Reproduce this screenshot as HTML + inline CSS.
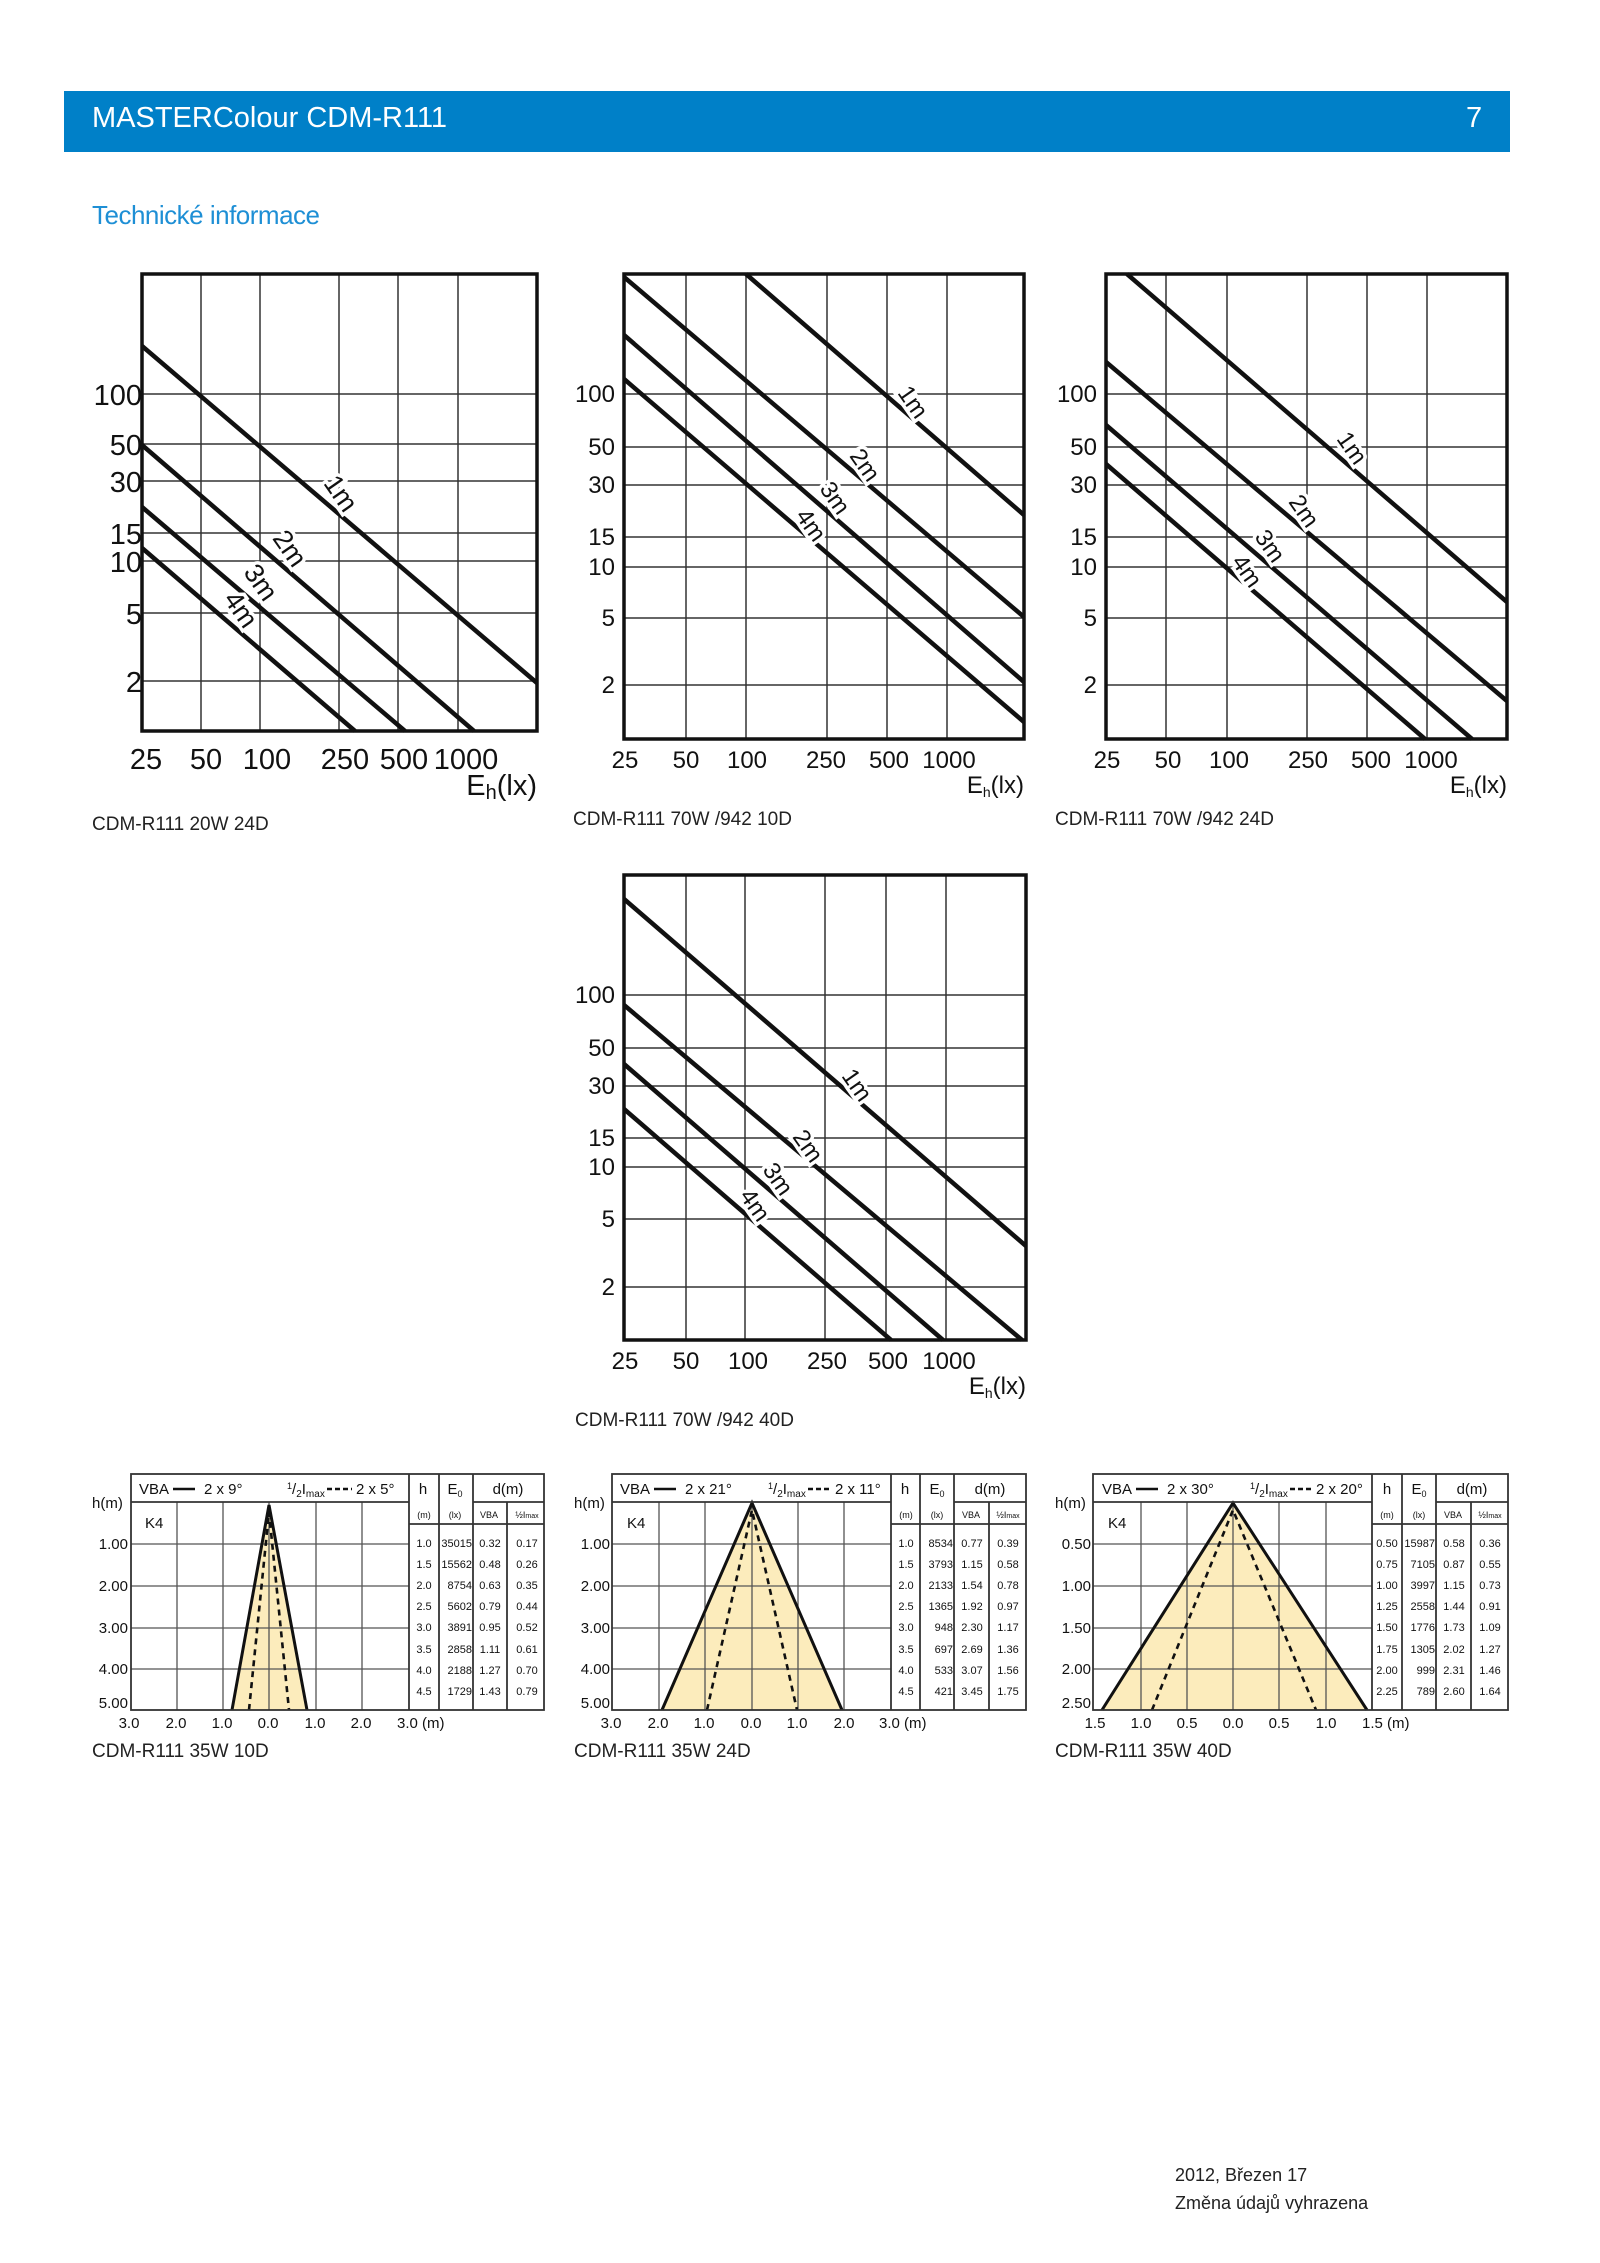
<!DOCTYPE html>
<html><head><meta charset="utf-8"><style>
html,body{margin:0;padding:0;background:#fff}
svg{display:block}
text{font-family:"Liberation Sans",sans-serif;fill:#111}
.g{stroke:#333;stroke-width:1.5}
.b{fill:none;stroke:#111;stroke-width:3.5}
.c{stroke:#111;stroke-width:4.5;stroke-linecap:butt}
.lbl{font-size:24px;paint-order:stroke;stroke:#fff;stroke-width:7px}
.ty{font-size:24px;text-anchor:end}
.tx{font-size:24px;text-anchor:middle}
.cap{font-size:19px;fill:#222}
.sg{stroke:#555;stroke-width:1.3}
.sb{fill:none;stroke:#333;stroke-width:1.8}
.f{fill:#fcecbc}
.se{stroke:#111;stroke-width:3;fill:none}
.sd{stroke:#111;stroke-width:2.6;stroke-dasharray:6 5;fill:none}
.s14{font-size:15px}
.s11{font-size:11px}
.s9{font-size:9px}
.m{text-anchor:middle}
.e{text-anchor:end}
.bc{font-size:19px;fill:#222}
</style></head><body>
<svg width="1600" height="2263" viewBox="0 0 1600 2263" xmlns="http://www.w3.org/2000/svg">
<rect x="64" y="91" width="1446" height="61" fill="#0080c8"/>
<text x="92" y="127" style="font-size:29px;fill:#fff">MASTERColour CDM-R111</text>
<text x="1466" y="127" style="font-size:29px;fill:#fff">7</text>
<text x="92" y="224" style="font-size:26px;fill:#1e8fd5;letter-spacing:-0.5px">Technické informace</text>

<!-- Chart 1 -->
<g>
<line class="g" x1="201" y1="274" x2="201" y2="731"/><line class="g" x1="260" y1="274" x2="260" y2="731"/><line class="g" x1="339" y1="274" x2="339" y2="731"/><line class="g" x1="398" y1="274" x2="398" y2="731"/><line class="g" x1="458" y1="274" x2="458" y2="731"/>
<line class="g" x1="142" y1="394" x2="537" y2="394"/><line class="g" x1="142" y1="444" x2="537" y2="444"/><line class="g" x1="142" y1="481" x2="537" y2="481"/><line class="g" x1="142" y1="533" x2="537" y2="533"/><line class="g" x1="142" y1="561" x2="537" y2="561"/><line class="g" x1="142" y1="613" x2="537" y2="613"/><line class="g" x1="142" y1="681" x2="537" y2="681"/>
<line class="c" x1="142" y1="346" x2="537" y2="683"/>
<line class="c" x1="142" y1="445" x2="474" y2="731"/>
<line class="c" x1="142" y1="507" x2="405" y2="731"/>
<line class="c" x1="142" y1="548" x2="355" y2="731"/>
<rect class="b" x="142" y="274" width="395" height="457"/>
<text class="lbl" transform="translate(340,494) rotate(55)" text-anchor="middle" dy="8" style="font-size:27px">1m</text>
<text class="lbl" transform="translate(289,549) rotate(55)" text-anchor="middle" dy="8" style="font-size:27px">2m</text>
<text class="lbl" transform="translate(260,583) rotate(55)" text-anchor="middle" dy="8" style="font-size:27px">3m</text>
<text class="lbl" transform="translate(240,610) rotate(55)" text-anchor="middle" dy="8" style="font-size:27px">4m</text>
<g class="ty" style="font-size:29px"><text x="142" y="405">100</text><text x="142" y="455">50</text><text x="142" y="492">30</text><text x="142" y="544">15</text><text x="142" y="572">10</text><text x="142" y="624">5</text><text x="142" y="692">2</text></g>
<g class="tx" style="font-size:29px"><text x="146" y="769">25</text><text x="206" y="769">50</text><text x="267" y="769">100</text><text x="345" y="769">250</text><text x="404" y="769">500</text><text x="466" y="769">1000</text></g>
<text x="537" y="795" text-anchor="end" style="font-size:29px">E<tspan font-size="20" dy="4">h</tspan><tspan dy="-4">(lx)</tspan></text>
<text class="cap" x="92" y="830">CDM-R111 20W 24D</text>
</g>

<!-- Chart 2 -->
<g>
<line class="g" x1="686" y1="274" x2="686" y2="739"/><line class="g" x1="746" y1="274" x2="746" y2="739"/><line class="g" x1="827" y1="274" x2="827" y2="739"/><line class="g" x1="887" y1="274" x2="887" y2="739"/><line class="g" x1="947" y1="274" x2="947" y2="739"/>
<line class="g" x1="624" y1="394" x2="1024" y2="394"/><line class="g" x1="624" y1="447" x2="1024" y2="447"/><line class="g" x1="624" y1="485" x2="1024" y2="485"/><line class="g" x1="624" y1="537" x2="1024" y2="537"/><line class="g" x1="624" y1="567" x2="1024" y2="567"/><line class="g" x1="624" y1="618" x2="1024" y2="618"/><line class="g" x1="624" y1="685" x2="1024" y2="685"/>
<line class="c" x1="746" y1="274" x2="1024" y2="515"/>
<line class="c" x1="624" y1="277" x2="1024" y2="617"/>
<line class="c" x1="624" y1="335" x2="1024" y2="682"/>
<line class="c" x1="624" y1="379" x2="1024" y2="722"/>
<rect class="b" x="624" y="274" width="400" height="465"/>
<text class="lbl" transform="translate(913,402) rotate(55)" text-anchor="middle" dy="8">1m</text>
<text class="lbl" transform="translate(865,465) rotate(55)" text-anchor="middle" dy="8">2m</text>
<text class="lbl" transform="translate(835,498) rotate(55)" text-anchor="middle" dy="8">3m</text>
<text class="lbl" transform="translate(811,525) rotate(55)" text-anchor="middle" dy="8">4m</text>
<g class="ty"><text x="615" y="402">100</text><text x="615" y="455">50</text><text x="615" y="493">30</text><text x="615" y="545">15</text><text x="615" y="575">10</text><text x="615" y="626">5</text><text x="615" y="693">2</text></g>
<g class="tx"><text x="625" y="768">25</text><text x="686" y="768">50</text><text x="747" y="768">100</text><text x="826" y="768">250</text><text x="889" y="768">500</text><text x="949" y="768">1000</text></g>
<text x="1024" y="793" text-anchor="end" style="font-size:24px">E<tspan font-size="14" dy="4">h</tspan><tspan dy="-4">(lx)</tspan></text>
<text class="cap" x="573" y="825">CDM-R111 70W /942 10D</text>
</g>

<!-- Chart 3 -->
<g>
<line class="g" x1="1166" y1="274" x2="1166" y2="739"/><line class="g" x1="1227" y1="274" x2="1227" y2="739"/><line class="g" x1="1307" y1="274" x2="1307" y2="739"/><line class="g" x1="1367" y1="274" x2="1367" y2="739"/><line class="g" x1="1427" y1="274" x2="1427" y2="739"/>
<line class="g" x1="1106" y1="394" x2="1507" y2="394"/><line class="g" x1="1106" y1="447" x2="1507" y2="447"/><line class="g" x1="1106" y1="485" x2="1507" y2="485"/><line class="g" x1="1106" y1="537" x2="1507" y2="537"/><line class="g" x1="1106" y1="567" x2="1507" y2="567"/><line class="g" x1="1106" y1="618" x2="1507" y2="618"/><line class="g" x1="1106" y1="685" x2="1507" y2="685"/>
<line class="c" x1="1127" y1="274" x2="1507" y2="602"/>
<line class="c" x1="1106" y1="362" x2="1507" y2="701"/>
<line class="c" x1="1106" y1="425" x2="1472" y2="739"/>
<line class="c" x1="1106" y1="464" x2="1425" y2="739"/>
<rect class="b" x="1106" y="274" width="401" height="465"/>
<text class="lbl" transform="translate(1352,448) rotate(55)" text-anchor="middle" dy="8">1m</text>
<text class="lbl" transform="translate(1304,511) rotate(55)" text-anchor="middle" dy="8">2m</text>
<text class="lbl" transform="translate(1270,546) rotate(55)" text-anchor="middle" dy="8">3m</text>
<text class="lbl" transform="translate(1247,571) rotate(55)" text-anchor="middle" dy="8">4m</text>
<g class="ty"><text x="1097" y="402">100</text><text x="1097" y="455">50</text><text x="1097" y="493">30</text><text x="1097" y="545">15</text><text x="1097" y="575">10</text><text x="1097" y="626">5</text><text x="1097" y="693">2</text></g>
<g class="tx"><text x="1107" y="768">25</text><text x="1168" y="768">50</text><text x="1229" y="768">100</text><text x="1308" y="768">250</text><text x="1371" y="768">500</text><text x="1431" y="768">1000</text></g>
<text x="1507" y="793" text-anchor="end" style="font-size:24px">E<tspan font-size="14" dy="4">h</tspan><tspan dy="-4">(lx)</tspan></text>
<text class="cap" x="1055" y="825">CDM-R111 70W /942 24D</text>
</g>

<!-- Chart 4 -->
<g>
<line class="g" x1="686" y1="875" x2="686" y2="1340"/><line class="g" x1="745" y1="875" x2="745" y2="1340"/><line class="g" x1="825" y1="875" x2="825" y2="1340"/><line class="g" x1="886" y1="875" x2="886" y2="1340"/><line class="g" x1="946" y1="875" x2="946" y2="1340"/>
<line class="g" x1="624" y1="995" x2="1026" y2="995"/><line class="g" x1="624" y1="1048" x2="1026" y2="1048"/><line class="g" x1="624" y1="1086" x2="1026" y2="1086"/><line class="g" x1="624" y1="1138" x2="1026" y2="1138"/><line class="g" x1="624" y1="1167" x2="1026" y2="1167"/><line class="g" x1="624" y1="1219" x2="1026" y2="1219"/><line class="g" x1="624" y1="1287" x2="1026" y2="1287"/>
<line class="c" x1="624" y1="899" x2="1026" y2="1246"/>
<line class="c" x1="624" y1="1005" x2="1022" y2="1340"/>
<line class="c" x1="624" y1="1064" x2="943" y2="1340"/>
<line class="c" x1="624" y1="1109" x2="891" y2="1340"/>
<rect class="b" x="624" y="875" width="402" height="465"/>
<text class="lbl" transform="translate(857,1085) rotate(55)" text-anchor="middle" dy="8">1m</text>
<text class="lbl" transform="translate(808,1146) rotate(55)" text-anchor="middle" dy="8">2m</text>
<text class="lbl" transform="translate(778,1179) rotate(55)" text-anchor="middle" dy="8">3m</text>
<text class="lbl" transform="translate(755,1205) rotate(55)" text-anchor="middle" dy="8">4m</text>
<g class="ty"><text x="615" y="1003">100</text><text x="615" y="1056">50</text><text x="615" y="1094">30</text><text x="615" y="1146">15</text><text x="615" y="1175">10</text><text x="615" y="1227">5</text><text x="615" y="1295">2</text></g>
<g class="tx"><text x="625" y="1369">25</text><text x="686" y="1369">50</text><text x="748" y="1369">100</text><text x="827" y="1369">250</text><text x="888" y="1369">500</text><text x="949" y="1369">1000</text></g>
<text x="1026" y="1394" text-anchor="end" style="font-size:24px">E<tspan font-size="14" dy="4">h</tspan><tspan dy="-4">(lx)</tspan></text>
<text class="cap" x="575" y="1426">CDM-R111 70W /942 40D</text>
</g>

<!-- Bottom chart A -->
<g>
<polygon class="f" points="269,1505 232,1710 307,1710"/>
<line class="sg" x1="177" y1="1502" x2="177" y2="1710"/><line class="sg" x1="223" y1="1502" x2="223" y2="1710"/><line class="sg" x1="269" y1="1502" x2="269" y2="1710"/><line class="sg" x1="316" y1="1502" x2="316" y2="1710"/><line class="sg" x1="362" y1="1502" x2="362" y2="1710"/>
<line class="sg" x1="131" y1="1544" x2="409" y2="1544"/><line class="sg" x1="131" y1="1586" x2="409" y2="1586"/><line class="sg" x1="131" y1="1628" x2="409" y2="1628"/><line class="sg" x1="131" y1="1669" x2="409" y2="1669"/>
<polyline class="se" points="232,1710 269,1505 307,1710"/>
<polyline class="sd" points="249,1710 269,1512 289,1710"/>
<line class="sb" x1="131" y1="1502" x2="409" y2="1502"/><line class="sb" x1="473" y1="1502" x2="544" y2="1502"/><line class="sb" x1="409" y1="1524" x2="544" y2="1524"/>
<line class="sb" x1="409" y1="1474" x2="409" y2="1710"/><line class="sb" x1="439" y1="1474" x2="439" y2="1710"/><line class="sb" x1="473" y1="1474" x2="473" y2="1710"/><line class="sb" x1="507" y1="1502" x2="507" y2="1710"/>
<rect class="sb" x="131" y="1474" width="413" height="236"/>
<text class="s14" x="139" y="1494">VBA</text><line x1="173" y1="1489" x2="195" y2="1489" stroke="#111" stroke-width="2.5"/><text class="s14" x="204" y="1494">2 x 9°</text>
<text class="s14" x="287" y="1494"><tspan font-size="9" dy="-5">1</tspan><tspan dy="5">/</tspan><tspan font-size="10" dy="3">2</tspan><tspan dy="-3">I</tspan><tspan font-size="10" dy="3">max</tspan></text>
<line x1="327" y1="1489" x2="352" y2="1489" stroke="#111" stroke-width="2.5" stroke-dasharray="5 3"/><text class="s14" x="356" y="1494">2 x 5°</text>
<text class="s14 m" x="423" y="1494">h</text><text class="s14 m" x="455" y="1494">E<tspan font-size="9" dy="3">0</tspan></text><text class="s14 m" x="508" y="1494">d(m)</text>
<text class="s9 m" x="424" y="1518">(m)</text><text class="s9 m" x="455" y="1518">(lx)</text><text class="s9 m" x="489" y="1518">VBA</text><text class="s9 m" x="527" y="1518">½I<tspan font-size="7">max</tspan></text>
<g class="s11"><text class="m" x="424" y="1547">1.0</text><text class="e" x="472" y="1547">35015</text><text class="m" x="490" y="1547">0.32</text><text class="m" x="527" y="1547">0.17</text>
<text class="m" x="424" y="1568">1.5</text><text class="e" x="472" y="1568">15562</text><text class="m" x="490" y="1568">0.48</text><text class="m" x="527" y="1568">0.26</text>
<text class="m" x="424" y="1589">2.0</text><text class="e" x="472" y="1589">8754</text><text class="m" x="490" y="1589">0.63</text><text class="m" x="527" y="1589">0.35</text>
<text class="m" x="424" y="1610">2.5</text><text class="e" x="472" y="1610">5602</text><text class="m" x="490" y="1610">0.79</text><text class="m" x="527" y="1610">0.44</text>
<text class="m" x="424" y="1631">3.0</text><text class="e" x="472" y="1631">3891</text><text class="m" x="490" y="1631">0.95</text><text class="m" x="527" y="1631">0.52</text>
<text class="m" x="424" y="1653">3.5</text><text class="e" x="472" y="1653">2858</text><text class="m" x="490" y="1653">1.11</text><text class="m" x="527" y="1653">0.61</text>
<text class="m" x="424" y="1674">4.0</text><text class="e" x="472" y="1674">2188</text><text class="m" x="490" y="1674">1.27</text><text class="m" x="527" y="1674">0.70</text>
<text class="m" x="424" y="1695">4.5</text><text class="e" x="472" y="1695">1729</text><text class="m" x="490" y="1695">1.43</text><text class="m" x="527" y="1695">0.79</text></g>
<text class="s14" x="145" y="1528">K4</text>
<text class="s14" x="92" y="1508">h(m)</text>
<g class="s14 e"><text x="128" y="1549">1.00</text><text x="128" y="1591">2.00</text><text x="128" y="1633">3.00</text><text x="128" y="1674">4.00</text><text x="128" y="1708">5.00</text></g>
<g class="s14 m"><text x="129" y="1728">3.0</text><text x="176" y="1728">2.0</text><text x="222" y="1728">1.0</text><text x="268" y="1728">0.0</text><text x="315" y="1728">1.0</text><text x="361" y="1728">2.0</text></g><text class="s14" x="397" y="1728">3.0 (m)</text>
<text class="bc" x="92" y="1757">CDM-R111 35W 10D</text>
</g>

<!-- Bottom chart B -->
<g transform="translate(481,0)">
<polygon class="f" points="271,1503 181,1710 361,1710"/>
<line class="sg" x1="178" y1="1502" x2="178" y2="1710"/><line class="sg" x1="224" y1="1502" x2="224" y2="1710"/><line class="sg" x1="271" y1="1502" x2="271" y2="1710"/><line class="sg" x1="317" y1="1502" x2="317" y2="1710"/><line class="sg" x1="363" y1="1502" x2="363" y2="1710"/>
<line class="sg" x1="131" y1="1544" x2="410" y2="1544"/><line class="sg" x1="131" y1="1586" x2="410" y2="1586"/><line class="sg" x1="131" y1="1628" x2="410" y2="1628"/><line class="sg" x1="131" y1="1669" x2="410" y2="1669"/>
<polyline class="se" points="181,1710 271,1503 361,1710"/>
<polyline class="sd" points="226,1710 271,1510 316,1710"/>
<line class="sb" x1="131" y1="1502" x2="410" y2="1502"/><line class="sb" x1="473" y1="1502" x2="545" y2="1502"/><line class="sb" x1="410" y1="1524" x2="545" y2="1524"/>
<line class="sb" x1="410" y1="1474" x2="410" y2="1710"/><line class="sb" x1="439" y1="1474" x2="439" y2="1710"/><line class="sb" x1="473" y1="1474" x2="473" y2="1710"/><line class="sb" x1="508" y1="1502" x2="508" y2="1710"/>
<rect class="sb" x="131" y="1474" width="414" height="236"/>
<text class="s14" x="139" y="1494">VBA</text><line x1="173" y1="1489" x2="195" y2="1489" stroke="#111" stroke-width="2.5"/><text class="s14" x="204" y="1494">2 x 21°</text>
<text class="s14" x="287" y="1494"><tspan font-size="9" dy="-5">1</tspan><tspan dy="5">/</tspan><tspan font-size="10" dy="3">2</tspan><tspan dy="-3">I</tspan><tspan font-size="10" dy="3">max</tspan></text>
<line x1="327" y1="1489" x2="350" y2="1489" stroke="#111" stroke-width="2.5" stroke-dasharray="5 3"/><text class="s14" x="354" y="1494">2 x 11°</text>
<text class="s14 m" x="424" y="1494">h</text><text class="s14 m" x="456" y="1494">E<tspan font-size="9" dy="3">0</tspan></text><text class="s14 m" x="509" y="1494">d(m)</text>
<text class="s9 m" x="425" y="1518">(m)</text><text class="s9 m" x="456" y="1518">(lx)</text><text class="s9 m" x="490" y="1518">VBA</text><text class="s9 m" x="527" y="1518">½I<tspan font-size="7">max</tspan></text>
<g class="s11"><text class="m" x="425" y="1547">1.0</text><text class="e" x="472" y="1547">8534</text><text class="m" x="491" y="1547">0.77</text><text class="m" x="527" y="1547">0.39</text>
<text class="m" x="425" y="1568">1.5</text><text class="e" x="472" y="1568">3793</text><text class="m" x="491" y="1568">1.15</text><text class="m" x="527" y="1568">0.58</text>
<text class="m" x="425" y="1589">2.0</text><text class="e" x="472" y="1589">2133</text><text class="m" x="491" y="1589">1.54</text><text class="m" x="527" y="1589">0.78</text>
<text class="m" x="425" y="1610">2.5</text><text class="e" x="472" y="1610">1365</text><text class="m" x="491" y="1610">1.92</text><text class="m" x="527" y="1610">0.97</text>
<text class="m" x="425" y="1631">3.0</text><text class="e" x="472" y="1631">948</text><text class="m" x="491" y="1631">2.30</text><text class="m" x="527" y="1631">1.17</text>
<text class="m" x="425" y="1653">3.5</text><text class="e" x="472" y="1653">697</text><text class="m" x="491" y="1653">2.69</text><text class="m" x="527" y="1653">1.36</text>
<text class="m" x="425" y="1674">4.0</text><text class="e" x="472" y="1674">533</text><text class="m" x="491" y="1674">3.07</text><text class="m" x="527" y="1674">1.56</text>
<text class="m" x="425" y="1695">4.5</text><text class="e" x="472" y="1695">421</text><text class="m" x="491" y="1695">3.45</text><text class="m" x="527" y="1695">1.75</text></g>
<text class="s14" x="146" y="1528">K4</text>
<text class="s14" x="93" y="1508">h(m)</text>
<g class="s14 e"><text x="129" y="1549">1.00</text><text x="129" y="1591">2.00</text><text x="129" y="1633">3.00</text><text x="129" y="1674">4.00</text><text x="129" y="1708">5.00</text></g>
<g class="s14 m"><text x="130" y="1728">3.0</text><text x="177" y="1728">2.0</text><text x="223" y="1728">1.0</text><text x="270" y="1728">0.0</text><text x="316" y="1728">1.0</text><text x="363" y="1728">2.0</text></g><text class="s14" x="398" y="1728">3.0 (m)</text>
<text class="bc" x="93" y="1757">CDM-R111 35W 24D</text>
</g>

<!-- Bottom chart C -->
<g transform="translate(962,0)">
<polygon class="f" points="271,1503 140,1710 405,1710"/>
<line class="sg" x1="179" y1="1502" x2="179" y2="1710"/><line class="sg" x1="225" y1="1502" x2="225" y2="1710"/><line class="sg" x1="271" y1="1502" x2="271" y2="1710"/><line class="sg" x1="317" y1="1502" x2="317" y2="1710"/><line class="sg" x1="364" y1="1502" x2="364" y2="1710"/>
<line class="sg" x1="131" y1="1544" x2="410" y2="1544"/><line class="sg" x1="131" y1="1586" x2="410" y2="1586"/><line class="sg" x1="131" y1="1628" x2="410" y2="1628"/><line class="sg" x1="131" y1="1669" x2="410" y2="1669"/>
<polyline class="se" points="140,1710 271,1503 405,1710"/>
<polyline class="sd" points="190,1710 271,1510 354,1710"/>
<line class="sb" x1="131" y1="1502" x2="410" y2="1502"/><line class="sb" x1="474" y1="1502" x2="546" y2="1502"/><line class="sb" x1="410" y1="1524" x2="546" y2="1524"/>
<line class="sb" x1="410" y1="1474" x2="410" y2="1710"/><line class="sb" x1="440" y1="1474" x2="440" y2="1710"/><line class="sb" x1="474" y1="1474" x2="474" y2="1710"/><line class="sb" x1="509" y1="1502" x2="509" y2="1710"/>
<rect class="sb" x="131" y="1474" width="415" height="236"/>
<text class="s14" x="140" y="1494">VBA</text><line x1="174" y1="1489" x2="196" y2="1489" stroke="#111" stroke-width="2.5"/><text class="s14" x="205" y="1494">2 x 30°</text>
<text class="s14" x="288" y="1494"><tspan font-size="9" dy="-5">1</tspan><tspan dy="5">/</tspan><tspan font-size="10" dy="3">2</tspan><tspan dy="-3">I</tspan><tspan font-size="10" dy="3">max</tspan></text>
<line x1="328" y1="1489" x2="350" y2="1489" stroke="#111" stroke-width="2.5" stroke-dasharray="5 3"/><text class="s14" x="354" y="1494">2 x 20°</text>
<text class="s14 m" x="425" y="1494">h</text><text class="s14 m" x="457" y="1494">E<tspan font-size="9" dy="3">0</tspan></text><text class="s14 m" x="510" y="1494">d(m)</text>
<text class="s9 m" x="425" y="1518">(m)</text><text class="s9 m" x="457" y="1518">(lx)</text><text class="s9 m" x="491" y="1518">VBA</text><text class="s9 m" x="528" y="1518">½I<tspan font-size="7">max</tspan></text>
<g class="s11"><text class="m" x="425" y="1547">0.50</text><text class="e" x="473" y="1547">15987</text><text class="m" x="492" y="1547">0.58</text><text class="m" x="528" y="1547">0.36</text>
<text class="m" x="425" y="1568">0.75</text><text class="e" x="473" y="1568">7105</text><text class="m" x="492" y="1568">0.87</text><text class="m" x="528" y="1568">0.55</text>
<text class="m" x="425" y="1589">1.00</text><text class="e" x="473" y="1589">3997</text><text class="m" x="492" y="1589">1.15</text><text class="m" x="528" y="1589">0.73</text>
<text class="m" x="425" y="1610">1.25</text><text class="e" x="473" y="1610">2558</text><text class="m" x="492" y="1610">1.44</text><text class="m" x="528" y="1610">0.91</text>
<text class="m" x="425" y="1631">1.50</text><text class="e" x="473" y="1631">1776</text><text class="m" x="492" y="1631">1.73</text><text class="m" x="528" y="1631">1.09</text>
<text class="m" x="425" y="1653">1.75</text><text class="e" x="473" y="1653">1305</text><text class="m" x="492" y="1653">2.02</text><text class="m" x="528" y="1653">1.27</text>
<text class="m" x="425" y="1674">2.00</text><text class="e" x="473" y="1674">999</text><text class="m" x="492" y="1674">2.31</text><text class="m" x="528" y="1674">1.46</text>
<text class="m" x="425" y="1695">2.25</text><text class="e" x="473" y="1695">789</text><text class="m" x="492" y="1695">2.60</text><text class="m" x="528" y="1695">1.64</text></g>
<text class="s14" x="146" y="1528">K4</text>
<text class="s14" x="93" y="1508">h(m)</text>
<g class="s14 e"><text x="129" y="1549">0.50</text><text x="129" y="1591">1.00</text><text x="129" y="1633">1.50</text><text x="129" y="1674">2.00</text><text x="129" y="1708">2.50</text></g>
<g class="s14 m"><text x="133" y="1728">1.5</text><text x="179" y="1728">1.0</text><text x="225" y="1728">0.5</text><text x="271" y="1728">0.0</text><text x="317" y="1728">0.5</text><text x="364" y="1728">1.0</text></g><text class="s14" x="400" y="1728">1.5 (m)</text>
<text class="bc" x="93" y="1757">CDM-R111 35W 40D</text>
</g>

<text x="1175" y="2181" style="font-size:18px;fill:#222">2012, Březen 17</text>
<text x="1175" y="2209" style="font-size:18px;fill:#222">Změna údajů vyhrazena</text>
</svg>
</body></html>
